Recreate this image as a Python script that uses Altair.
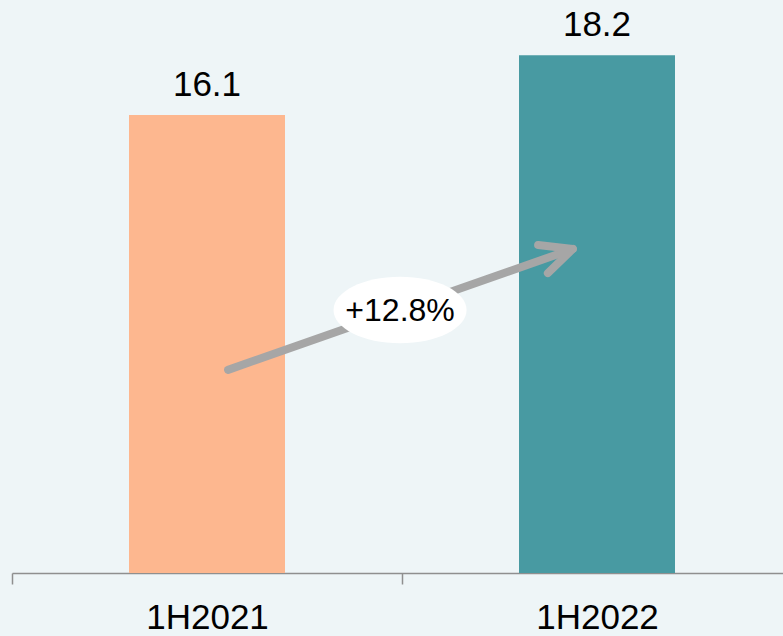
import altair as alt
import pandas as pd

periods = ["1H2021", "1H2022"]
values = [16.1, 18.2]
bar_colors = ["#FDB78F", "#489AA2"]
growth_label = "+12.8%"

# annotation geometry in data units (x: band index units, y: value units)
arrow_part = ["shaft", "shaft", "head", "head", "head"]
arrow_order = [0, 1, 0, 1, 2]
arrow_x = [0.554, 1.438, 1.349, 1.438, 1.374]
arrow_y = [7.14, 11.39, 11.53, 11.39, 10.54]
bubble_x = [0.995]
bubble_y = [9.24]

FONT = "Liberation Sans"

bars_df = pd.DataFrame({"period": periods, "value": values})
arrow_df = pd.DataFrame({"part": arrow_part, "ord": arrow_order, "x": arrow_x, "y": arrow_y})
bubble_df = pd.DataFrame({"x": bubble_x, "y": bubble_y, "label": [growth_label]})

yscale = alt.Scale(domain=[0, 20.14], nice=False, zero=True)
xband = alt.X(
    "period:N",
    sort=periods,
    scale=alt.Scale(range=[0, 780], paddingInner=0.6, paddingOuter=0.3),
    axis=alt.Axis(
        title=None,
        labelAngle=0,
        labelFontSize=35,
        labelFont=FONT,
        labelColor="#000000",
        labelPadding=16,
        tickOffset=-195,
        labelOffset=195,
        tickSize=11,
        tickWidth=1.5,
        tickColor="#8f8f8f",
        domainColor="#8f8f8f",
        domainWidth=1.5,
        grid=False,
    ),
)

bars = alt.Chart(bars_df).mark_bar().encode(
    x=xband,
    y=alt.Y("value:Q", scale=yscale, axis=None),
    color=alt.Color("period:N", scale=alt.Scale(domain=periods, range=bar_colors), legend=None),
)

labels = alt.Chart(bars_df).mark_text(
    dy=-19, baseline="alphabetic", fontSize=35, font=FONT, color="#000000"
).encode(
    x=alt.X("period:N", sort=periods),
    y=alt.Y("value:Q", scale=yscale, axis=None),
    text=alt.Text("value:Q", format=".1f"),
)

base_chart = alt.layer(bars, labels)

xq = alt.Scale(domain=[0, 2], range=[0, 780], nice=False, zero=False)

arrow = alt.Chart(arrow_df).mark_line(
    color="#a6a6a6", strokeWidth=8, strokeCap="round", strokeJoin="round"
).encode(
    x=alt.X("x:Q", scale=xq, axis=None),
    y=alt.Y("y:Q", scale=yscale, axis=None),
    detail="part:N",
    order="ord:Q",
)

ellipse_path = "M -1 0 A 1 0.5 0 1 0 1 0 A 1 0.5 0 1 0 -1 0 Z"
bubble = alt.Chart(bubble_df).mark_point(
    shape=ellipse_path, size=17700, filled=True, color="#ffffff", opacity=1, strokeWidth=0
).encode(
    x=alt.X("x:Q", scale=xq, axis=None),
    y=alt.Y("y:Q", scale=yscale, axis=None),
)

bubble_text = alt.Chart(bubble_df).mark_text(
    fontSize=32, font=FONT, color="#000000", baseline="middle", align="center", dy=1
).encode(
    x=alt.X("x:Q", scale=xq, axis=None),
    y=alt.Y("y:Q", scale=yscale, axis=None),
    text="label:N",
)

annot = alt.layer(arrow, bubble, bubble_text)

chart = alt.layer(base_chart, annot).resolve_scale(x="independent").properties(
    width=771,
    height=573,
    background="#eef5f7",
    padding={"left": 12, "top": 0, "right": 0, "bottom": 63},
    autosize=alt.AutoSizeParams(type="none"),
).configure_view(stroke=None)

chart.save("out.html", embed_options={"renderer": "svg", "actions": False})
